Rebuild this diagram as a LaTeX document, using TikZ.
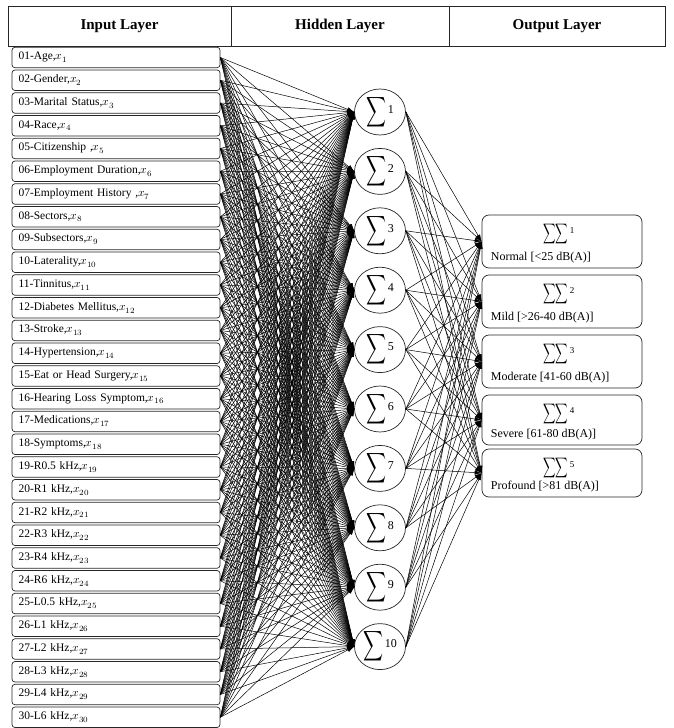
\documentclass[tikz,border=0pt]{standalone}
\usepackage{graphicx}
\usepackage{fontspec}
\usepackage{unicode-math}
\setmainfont{Liberation Serif}
\setmathfont{Latin Modern Math}
\usetikzlibrary{shapes,arrows,arrows.meta,positioning,calc}

% sum symbols used inside the nodes
\newcommand{\hidsum}[1]{{\fontsize{21}{21}\selectfont\scalebox{0.66}[1]{$\displaystyle\sum$}}\,\raisebox{4pt}{\fontsize{12}{12}\selectfont #1}}
\newcommand{\outsum}[1]{{\fontsize{14}{14}\selectfont\scalebox{0.62}[1]{$\displaystyle\sum$}\hspace{-1pt}\scalebox{0.62}[1]{$\displaystyle\sum$}}\,\raisebox{4pt}{\fontsize{9}{9}\selectfont #1}}

\tikzset{
  headcell/.style={draw=black!85, line width=0.9pt, minimum height=40pt, inner sep=0pt, font=\fontsize{15}{18}\selectfont\bfseries},
  inbox/.style={draw=black!85, line width=0.7pt, rounded corners=3pt, minimum height=20.5pt, text width=195pt, inner xsep=6.5pt, inner ysep=0pt, align=left, font=\fontsize{11.5}{13}\selectfont},
  hidnode/.style={draw=black!85, line width=0.7pt, ellipse, minimum width=51pt, minimum height=46pt, inner sep=0pt},
  outbox/.style={draw=black!85, line width=0.7pt, rounded corners=7pt, minimum width=160pt, inner sep=0pt},
  outtext/.style={inner sep=0pt, font=\fontsize{12}{14}\selectfont},
  link/.style={line width=0.5pt, -{Latex[length=7pt,width=4.5pt]}}
}

\begin{document}
\begin{tikzpicture}[x=1pt, y=-1pt]
  \useasboundingbox (0,0) rectangle (673,728);

  % Header row
  \node[headcell, minimum width=223pt] (headIn) at (119.5,26) {Input Layer};
  \node[headcell, minimum width=218pt] (headHid) at (340,26) {Hidden Layer};
  \node[headcell, minimum width=216pt] (headOut) at (557,26) {Output Layer};

  % Input layer
  \foreach \lab [count=\i] in {01-Age, 02-Gender, 03-Marital Status, 04-Race, 05-Citizenship\ ,
      06-Employment Duration, 07-Employment History\ , 08-Sectors, 09-Subsectors, 10-Laterality,
      11-Tinnitus, 12-Diabetes Mellitus, 13-Stroke, 14-Hypertension, 15-Eat or Head Surgery,
      16-Hearing Loss Symptom, 17-Medications, 18-Symptoms, 19-R0.5 kHz, 20-R1 kHz,
      21-R2 kHz, 22-R3 kHz, 23-R4 kHz, 24-R6 kHz, 25-L0.5 kHz,
      26-L1 kHz, 27-L2 kHz, 28-L3 kHz, 29-L4 kHz, 30-L6 kHz}
    \node[inbox] (in\i) at (116,{57.5+(\i-1)*22.75}) {\lab,$x_{\i}$};

  % Hidden layer
  \foreach \j in {1,...,10}
    \node[hidnode] (hid\j) at (380,{112+(\j-1)*59.4}) {\hidsum{\j}};

  % Output layer
  \foreach \yc/\hh/\lab [count=\k] in {241.5/53/{Normal [<25 dB(A)]}, 301.5/53/{Mild [>26-40 dB(A)]},
      361.5/53/{Moderate [41-60 dB(A)]}, 420/50/{Severe [61-80 dB(A)]}, 473/48/{Profound [>81 dB(A)]}}
  {
    \node[outbox, minimum height=\hh pt] (out\k) at (562,\yc) {};
    \node[outtext] (outsum\k) at ($(out\k.north)+(-3,19)$) {\outsum{\k}};
    \node[outtext, anchor=base west] (outlab\k) at ($(out\k.south west)+(9,-8)$) {\lab};
  }

  % Connections input -> hidden
  \foreach \i in {1,...,30}
    \foreach \j in {1,...,10}
      \draw[link] (in\i.east) -- (hid\j.west);

  % Connections hidden -> output
  \foreach \j in {1,...,10}
    \foreach \k in {1,...,5}
      \draw[link] (hid\j.east) -- (out\k.west);
\end{tikzpicture}
\end{document}
